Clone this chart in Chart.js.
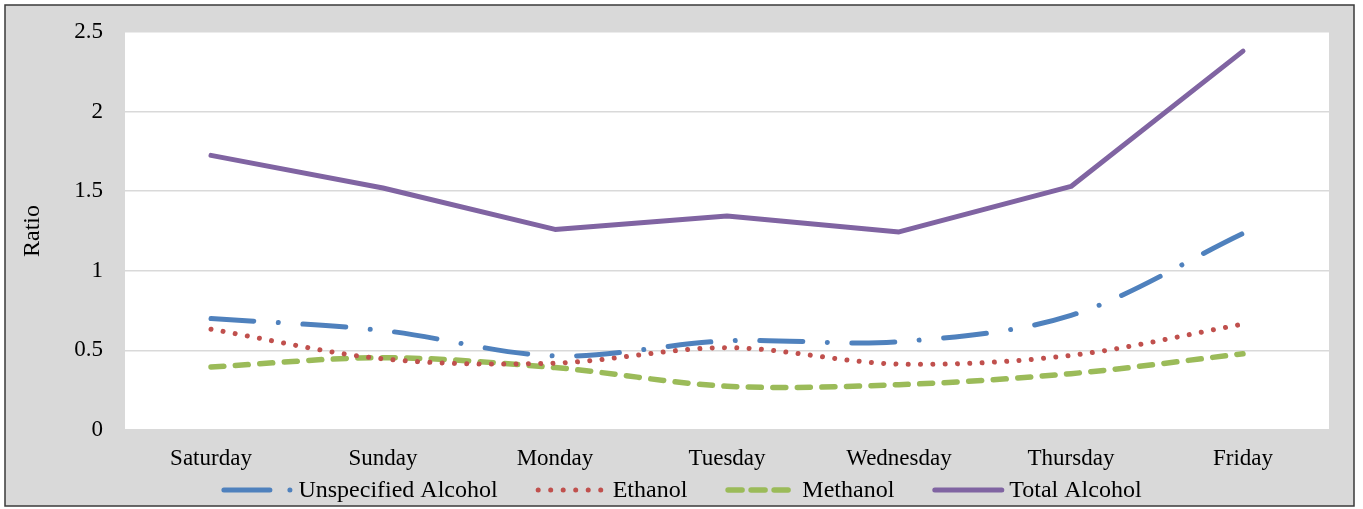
<!DOCTYPE html>
<html>
<head>
<meta charset="utf-8">
<title>Alcohol ratio by day of week</title>
<script src="https://cdn.jsdelivr.net/npm/chart.js@4.4.1/dist/chart.umd.min.js"></script>
<style>
  html, body { margin: 0; padding: 0; background: #ffffff; }
  #wrap { width: 1363px; height: 509px; }
</style>
</head>
<body>
<div id="wrap"><canvas id="ratioChart" width="1363" height="509"></canvas></div>
<script>
// Days of the week, starting from Saturday
const days = ['Saturday', 'Sunday', 'Monday', 'Tuesday', 'Wednesday', 'Thursday', 'Friday'];

// Ratio per day for each alcohol category
const unspecifiedAlcohol = [0.70, 0.625, 0.465, 0.56, 0.555, 0.72, 1.235];
const ethanol            = [0.633, 0.447, 0.42, 0.517, 0.414, 0.469, 0.665];
const methanol           = [0.396, 0.454, 0.392, 0.275, 0.285, 0.354, 0.479];
const totalAlcohol       = [1.725, 1.52, 1.26, 1.344, 1.244, 1.53, 2.38];

// Value axis ticks
const ratioTicks = [0, 0.5, 1, 1.5, 2, 2.5];

const SERIF = '"Liberation Serif", "Times New Roman", "DejaVu Serif", serif';

// Gray frame with a thin dark border and a white plotting area
const framePlugin = {
  id: 'frame',
  beforeDraw(chart) {
    const { ctx, width, height, chartArea } = chart;
    ctx.save();
    ctx.fillStyle = '#ffffff';
    ctx.fillRect(0, 0, width, height);
    ctx.fillStyle = '#d9d9d9';
    ctx.fillRect(5, 5, 1349, 501);
    ctx.strokeStyle = '#3a3a3a';
    ctx.lineWidth = 1.5;
    ctx.strokeRect(5, 5, 1349, 501);
    ctx.fillStyle = '#ffffff';
    ctx.fillRect(chartArea.left, chartArea.top, chartArea.right - chartArea.left, chartArea.bottom - chartArea.top);
    ctx.restore();
  }
};

// Legend row under the axis: line sample followed by the series name
const keyPlugin = {
  id: 'bottomKey',
  afterDraw(chart) {
    const { ctx, width } = chart;
    const sets = chart.data.datasets;
    const sampleW = 72, textGap = 5, itemGap = 38, y = 490;
    ctx.save();
    ctx.font = '24px ' + SERIF;
    ctx.textBaseline = 'middle';
    ctx.textAlign = 'left';
    const widths = sets.map(ds => ctx.measureText(ds.label).width);
    const total = widths.reduce((a, w) => a + sampleW + textGap + w, 0) + itemGap * (sets.length - 1);
    let x = width / 2 - total / 2;
    sets.forEach((ds, i) => {
      ctx.beginPath();
      ctx.strokeStyle = ds.borderColor;
      ctx.lineWidth = ds.borderWidth;
      ctx.lineCap = ds.borderCapStyle || 'butt';
      ctx.setLineDash(ds.keyDash || ds.borderDash || []);
      const cap = ds.borderCapStyle === 'round' ? ds.borderWidth / 2 : 0;
      ctx.moveTo(x + cap, y);
      ctx.lineTo(x + sampleW - cap, y);
      ctx.stroke();
      ctx.setLineDash([]);
      ctx.fillStyle = '#000000';
      ctx.fillText(ds.label, x + sampleW + textGap, y + 1);
      x += sampleW + textGap + widths[i] + itemGap;
    });
    ctx.restore();
  }
};

new Chart(document.getElementById('ratioChart'), {
  type: 'line',
  data: {
    labels: days,
    datasets: [
      {
        label: 'Unspecified Alcohol',
        data: unspecifiedAlcohol,
        borderColor: '#4f81bd',
        borderWidth: 5,
        borderDash: [43, 24.5, 0.01, 24.5],
        keyDash: [46, 20, 0.01, 20],
        borderCapStyle: 'round',
        tension: 0.33
      },
      {
        label: 'Ethanol',
        data: ethanol,
        borderColor: '#c0504d',
        borderWidth: 5,
        borderDash: [0.01, 12.3],
        keyDash: [0.01, 12.5],
        borderCapStyle: 'round',
        tension: 0.33
      },
      {
        label: 'Methanol',
        data: methanol,
        borderColor: '#9bbb59',
        borderWidth: 5.5,
        borderDash: [13, 11.5],
        keyDash: [14, 9],
        borderCapStyle: 'round',
        tension: 0.33
      },
      {
        label: 'Total Alcohol',
        data: totalAlcohol,
        borderColor: '#8064a2',
        borderWidth: 5,
        borderCapStyle: 'round',
        borderJoinStyle: 'round',
        tension: 0
      }
    ]
  },
  options: {
    responsive: false,
    animation: false,
    devicePixelRatio: 1,
    layout: { padding: { left: 5, right: 34, top: 32, bottom: 0 } },
    elements: { point: { radius: 0, hoverRadius: 0 } },
    plugins: {
      legend: { display: false },
      tooltip: { enabled: false }
    },
    scales: {
      x: {
        offset: true,
        grid: { display: false, drawTicks: false },
        border: { display: false },
        ticks: {
          color: '#000000',
          font: { family: SERIF, size: 23 },
          padding: 15,
          maxRotation: 0,
          autoSkip: false
        },
        afterFit(scale) { scale.height = 79; }
      },
      y: {
        min: 0,
        max: 2.5,
        afterBuildTicks(scale) { scale.ticks = ratioTicks.map(v => ({ value: v })); },
        grid: { color: '#d9d9d9', lineWidth: 1.5, drawTicks: false },
        border: { display: false },
        ticks: {
          color: '#000000',
          font: { family: SERIF, size: 23 },
          padding: 22,
          callback: v => String(v)
        },
        title: {
          display: true,
          text: 'Ratio',
          color: '#000000',
          font: { family: SERIF, size: 24 },
          padding: { top: 13, bottom: 0 }
        },
        afterFit(scale) {
          scale.width = 120;
          scale.paddingTop = 0;
          scale.paddingBottom = 0;
        }
      }
    }
  },
  plugins: [framePlugin, keyPlugin]
});
</script>
</body>
</html>
